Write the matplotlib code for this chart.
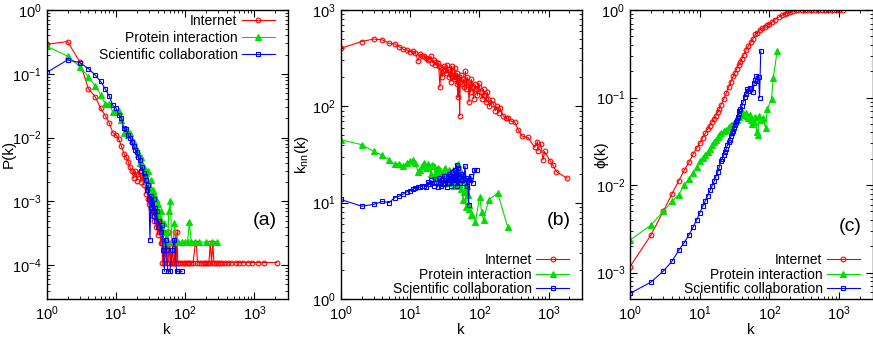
import matplotlib
matplotlib.use("Agg")
import matplotlib.pyplot as plt

plt.rcParams['font.family'] = ['Liberation Sans', 'DejaVu Sans']
plt.rcParams['mathtext.fontset'] = 'custom'
plt.rcParams['mathtext.rm'] = 'Liberation Sans'
plt.rcParams['mathtext.it'] = 'Liberation Sans:italic'
plt.rcParams['mathtext.default'] = 'regular'

labels = ["Internet", "Protein interaction", "Scientific collaboration"]
colors = ["#ff0000", "#00dd00", "#0000ff"]
markers = ["o", "^", "s"]

# ---------------- (a) P(k) ----------------
ka_int = [1,2,3,4,5,6,7,8,9,10,11,12,13,14,15,16,17,18,19,20,21,22,23,24,25,26,27,28,29,30,
          31,32,33,34,35,36,37,38,39,40,41,42,43,44,45,46,47,48,49,50,52,54,56,58,60,62,64,66,68,70,
          72,74,76,78,80,85,90,95,100,105,110,115,120,130,140,145,150,160,170,180,190,200,210,220,230,
          240,250,260,280,300,320,344,380,418,460,537,600,672,794,935,1125,1376,2100]
pa_int = [0.29,0.32,0.155,0.058,0.044,0.029,0.022,0.017,0.012,0.011,0.0094,0.0073,0.0056,0.0050,0.0042,
          0.0034,0.0030,0.0023,0.0030,0.0021,0.0027,0.0029,0.0020,0.0026,0.0018,0.0022,0.0013,0.0016,0.0011,0.0009,
          0.0012,0.0008,0.0010,0.0006,0.0009,0.0005,0.0007,0.0004,0.0006,0.0003,0.0005,0.00033,0.00044,0.00022,0.00033,
          0.00022,0.00011,0.00033,0.00022,0.00011,0.00022,0.00011,0.00033,0.00011,0.00022,0.00011,0.00011,0.00022,0.00011,0.00011,
          0.00033,0.00011,0.00033,0.00011,0.00011,0.00011,0.00011,0.00011,0.00011,0.00011,0.00011,0.00011,0.00011,0.00011,0.00022,
          0.00022,0.00011,0.00011,0.00011,0.00011,0.00011,0.00011,0.00011,0.00011,0.00022,
          0.00011,0.00022,0.00011,0.00011,0.00011,0.00011,0.00011,0.00011,0.00011,0.00011,0.00011,0.00011,0.00011,0.00011,0.00011,
          0.00011,0.00011,0.00011]

ka_pro = [1,2,3,4,5,6,7,8,9,10,11,12,13,14,15,16,17,18,19,20,21,22,23,24,25,26,27,28,29,30,
          31,32,33,34,35,36,37,38,39,40,42,44,46,48,50,52,54,56,58,61,64,67,70,75,80,90,100,108,115,122,
          140,160,200,240,290]
pa_pro = [0.27,0.19,0.13,0.09,0.065,0.047,0.034,0.034,0.025,0.025,0.026,0.019,0.012,0.013,0.011,
          0.012,0.009,0.0085,0.0075,0.0065,0.0055,0.0040,0.0050,0.0038,0.0030,0.0032,0.0028,0.0022,0.0030,0.0018,
          0.0016,0.0022,0.0013,0.0015,0.0011,0.0013,0.0009,0.0011,0.0007,0.0009,0.0006,0.0007,0.00045,0.00033,0.00045,
          0.00023,0.00033,0.00023,0.0007,0.001,0.00023,0.00023,0.00045,0.00023,0.00023,0.00023,0.00023,0.00023,0.00048,0.00023,
          0.00023,0.00023,0.00023,0.00023,0.00023]

ka_sci = [1,2,3,4,5,6,7,8,9,10,11,12,13,14,15,16,17,18,19,20,21,22,23,24,25,26,27,28,29,30,
          31,32,33,34,35,36,37,38,39,40,42,44,46,48,50,52,54,56,60,65,70,75,80,90]
pa_sci = [0.105,0.165,0.15,0.12,0.096,0.076,0.058,0.045,0.032,0.029,0.023,0.020,0.014,0.0135,0.011,
          0.010,0.0085,0.0075,0.0065,0.0060,0.0050,0.0045,0.0030,0.0035,0.0028,0.0025,0.0022,0.0015,0.0018,0.0011,
          0.00025,0.0012,0.0009,0.0007,0.0011,0.0006,0.0008,0.0005,0.0007,0.0004,0.0005,0.00033,0.00042,0.00017,0.00008,
          0.00025,0.00017,0.00008,0.00008,0.00017,0.00025,0.00008,0.00008,0.00008]

# ---------------- (b) k_nn(k) ----------------
kb_int = [1,2,3,4,5,6,7,8,9,10,11,12,13,14,15,16,17,18,19,20,21,22,23,24,25,26,27,28,29,30,
          31,32,33,34,35,36,37,38,39,40,41,42,43,44,45,46,47,48,49,50,51,52,53,55,57,59,61,63,65,67,
          69,71,73,75,77,80,83,86,90,94,98,100,105,110,115,120,125,130,135,140,150,160,170,180,190,
          200,220,240,262,290,325,365,415,505,630,690,700,769,830,873,1060,1150,1290,1850]
nb_int = [400,470,500,490,450,445,415,390,385,370,372,360,298,350,335,330,320,300,310,330,285,300,270,290,280,
          260,158,250,200,230,260,240,220,270,245,230,200,215,180,260,230,200,190,250,210,200,170,220,124,190,
          200,80,180,210,170,190,160,230,150,200,180,110,170,140,190,160,120,170,150,130,175,160,140,120,150,
          130,110,140,120,100,115,105,90,100,85,95,80,75,75,70,69,56.6,49,47.5,37.5,43,34.6,41,27.7,34,
          27,24.6,21,17.9]

kb_pro = [1,2,3,4,5,6,7,8,9,10,11,12,13,14,15,16,17,18,19,20,21,22,23,24,25,26,27,28,29,30,
          31,32,33,34,35,36,37,38,39,40,41,42,43,44,45,46,47,48,49,50,51,52,53,54,55,56,58,60,62,64,
          66,68,70,72,75,79,88,101,108,115,136,184,256]
nb_pro = [45,40,34,31,28,25,25.5,24,26,27,27.7,25.7,21,22,24,26,23,25,24,20,24.7,24,19,21,23,
          18,22,20,17,21,19,23,18,20,16,22,19,18,21,17,20,22,15,19,21,16,24,18,20,25,
          15,19,22,14,20,17,10.7,13,18,9,15,12,9.4,8.5,7.5,7.4,6.3,11.5,8,6.6,10.7,12.6,5.6]

kb_sci = [1,2,3,4,5,6,7,8,9,10,11,12,13,14,15,16,17,18,19,20,21,22,23,24,25,26,27,28,29,30,
          31,32,33,34,35,36,37,38,39,40,41,42,43,44,45,46,47,48,49,50,52,54,56,58,60,62,64,66,68,70,
          72,75,80,85,92]
nb_sci = [10.8,9.2,9.6,10.3,10.0,11.3,11.7,12.3,13,13.3,13.8,14.2,14.5,14.5,15,15.0,14.6,16.3,15.5,17,
          16,15,17.5,16,14.5,18,16,15,17,15.5,19,16,17,14.5,18,20,16,19,15,21,
          17,18,16,22,19,17,24.6,15,23,18,16,20,17,19,16,24,18,15,17,9.5,17,19,16,22,22]

# ---------------- (c) phi(k) ----------------
kc_int = [1,2,3,4,5,6,7,8,9,10,11,12,13,14,15,16,17,18,19,20,22,24,26,28,30,32,34,36,38,40,
          43,46,50,54,58,63,67,72,78,85,92,100,110,120,135,150,165,180,200,220,240,260,290,320,350,
          400,450,500,560,630,700,800,900,1000,1150]
fc_int = [0.00117,0.00269,0.00501,0.00794,0.0112,0.0148,0.0182,0.0224,0.0263,0.0302,0.0347,0.0389,0.0437,0.0479,0.0525,
          0.0575,0.0617,0.0676,0.0741,0.0813,0.0955,0.112,0.132,0.151,0.174,0.191,0.214,0.234,0.257,0.275,
          0.309,0.347,0.389,0.427,0.468,0.525,0.55,0.59,0.617,0.646,0.668,0.692,0.733,0.776,0.822,0.871,0.902,0.933,0.955,0.977,
          0.989,1.0,1.0,1.0,1.0,1.0,1.0,1.0,1.0,1.0,1.0,1.0,1.0,1.0,1.0]

kc_pro = [1,2,3,4,5,6,7,8,9,10,11,12,13,14,15,16,17,18,19,20,22,24,26,28,30,32,34,36,38,40,
          42,44,46,48,50,52,54,56,58,60,63,66,69,70,75,80,88,93,107,113,129]
fc_pro = [0.00235,0.0035,0.005,0.0065,0.0078,0.0100,0.0118,0.0138,0.0160,0.0190,0.0205,0.022,0.024,0.026,0.029,
          0.031,0.033,0.035,0.037,0.039,0.041,0.043,0.046,0.048,0.050,0.053,0.056,0.060,0.063,0.066,
          0.067,0.064,0.066,0.062,0.058,0.063,0.055,0.050,0.056,0.052,0.060,0.040,0.037,0.062,0.055,0.058,0.045,0.074,0.096,0.166,0.34]

kc_sci = [1,2,3,4,5,6,7,8,9,10,11,12,13,14,15,16,17,18,19,20,21,22,23,24,25,26,27,28,29,30,
          31,32,33,34,35,36,37,38,40,42,44,46,48,50,52,55,58,60,63,65,67,70,72,75]
fc_sci = [0.00058,0.00078,0.00104,0.00135,0.0018,0.0022,0.0027,0.0033,0.0040,0.0048,0.0057,0.0066,0.0076,0.0087,0.0098,
          0.011,0.0125,0.014,0.016,0.019,0.020,0.022,0.024,0.026,0.029,0.031,0.033,0.036,0.039,0.041,
          0.045,0.048,0.052,0.056,0.060,0.065,0.070,0.074,0.080,0.090,0.102,0.110,0.125,0.120,0.128,0.130,0.115,0.145,0.160,0.175,
          0.155,0.170,0.100,0.34]

panels = [
    ([ (ka_int, pa_int), (ka_pro, pa_pro), (ka_sci, pa_sci) ], "P(k)", (3e-5, 1), "(a)"),
    ([ (kb_int, nb_int), (kb_pro, nb_pro), (kb_sci, nb_sci) ], r"k$_{\mathrm{nn}}$(k)", (1, 1000), "(b)"),
    ([ (kc_int, fc_int), (kc_pro, fc_pro), (kc_sci, fc_sci) ], "\u03d5(k)", (5e-4, 1), "(c)"),
]

W, H = 873, 338
fig = plt.figure(figsize=(W/100, H/100), dpi=100)
axes_px = [(46.7, 287.5, 10, 298.5), (340.7, 581.7, 10, 299), (630, 872.5, 10, 299)]
ylab_px = [9, 302, 601]

for i, (series, ylab, ylim, tag) in enumerate(panels):
    l, r, t, b = axes_px[i]
    ax = fig.add_axes([l/W, 1-b/H, (r-l)/W, (b-t)/H])
    for (k, v), lab, c, m in zip(series, labels, colors, markers):
        filled = (m == "^")
        ax.plot(k, v, color=c, lw=0.8, marker=m, ms=3.4 if m != "^" else 3.8, mew=0.8,
                mfc=c if filled else "none", mec=c, label=lab)
    ax.set_xscale("log")
    ax.set_yscale("log")
    ax.set_xlim(1, 3000)
    ax.set_ylim(*ylim)
    ax.tick_params(which="both", direction="in", top=True, right=True, labelsize=10.5)
    ax.tick_params(axis="y", pad=3.5)
    ax.tick_params(axis="x", pad=4)
    ax.tick_params(which="major", length=5, width=0.8)
    ax.tick_params(which="minor", length=2.5, width=0.6)
    for s in ax.spines.values():
        s.set_linewidth(1.0)
    ax.set_xlabel("k", fontsize=11, labelpad=0)
    ax.set_ylabel(ylab, fontsize=11, va="center")
    ax.yaxis.set_label_coords((ylab_px[i] - l) / (r - l), 0.5)
    ax.text(0.955, 0.27 if i < 2 else 0.25, tag, transform=ax.transAxes, ha="right", va="center", fontsize=14)
    if i == 0:
        leg = ax.legend(loc="upper right", bbox_to_anchor=(0.96, 0.995), frameon=False, markerfirst=False,
                        numpoints=1, fontsize=10, handlelength=2.4, handletextpad=0.3, labelspacing=0.2,
                        borderpad=0.2, borderaxespad=0)
    else:
        leg = ax.legend(loc="lower right", bbox_to_anchor=(0.96, 0.0), frameon=False, markerfirst=False,
                        numpoints=1, fontsize=10, handlelength=2.4, handletextpad=0.3, labelspacing=0.05,
                        borderpad=0.2, borderaxespad=0)

fig.savefig("out.png", dpi=100)
